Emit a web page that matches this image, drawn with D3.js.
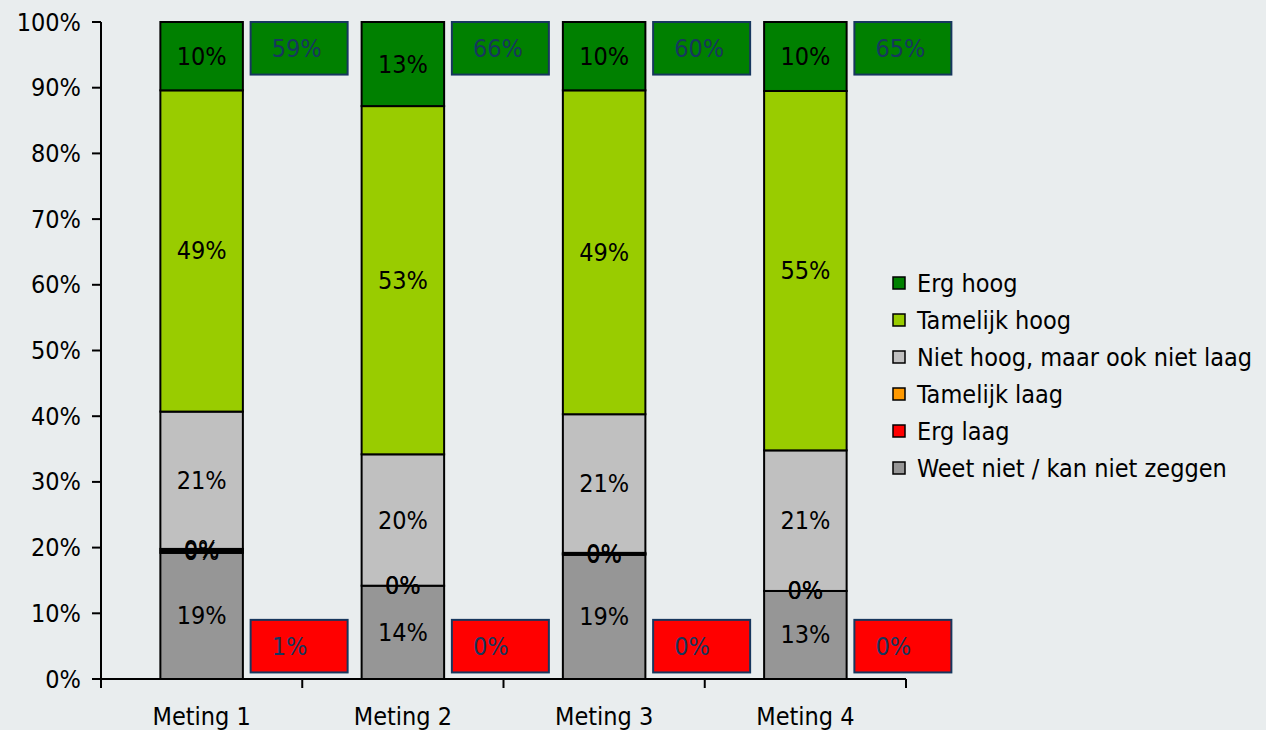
<!DOCTYPE html>
<html>
<head>
<meta charset="utf-8">
<script src="https://cdn.jsdelivr.net/npm/d3@7/dist/d3.min.js"></script>
<style>
  html, body { margin: 0; padding: 0; background: #E9EDEE; }
  svg { display: block; font-family: "DejaVu Sans Condensed", "DejaVu Sans", sans-serif; font-stretch: condensed; }
</style>
</head>
<body>
<svg id="chart" width="1266" height="730"></svg>
<script>
// Survey rounds and answer categories (stacked bottom to top)
const categories = ["Meting 1", "Meting 2", "Meting 3", "Meting 4"];
const seriesNames = ["Weet niet / kan niet zeggen", "Erg laag", "Tamelijk laag",
                     "Niet hoog, maar ook niet laag", "Tamelijk hoog", "Erg hoog"];
const seriesColors = ["#969696", "#FF0000", "#FF9900", "#C0C0C0", "#99CC00", "#008000"];

// Shares per round, in percent
const weetNiet     = [19.2, 14.2, 18.9, 13.4];
const ergLaag      = [0.3, 0.0, 0.15, 0.0];
const tamelijkLaag = [0.3, 0.0, 0.15, 0.0];
const nietHoog     = [20.9, 20.0, 21.1, 21.4];
const tamelijkHoog = [48.9, 53.0, 49.3, 54.7];
const ergHoog      = [10.4, 12.8, 10.4, 10.5];

const yTicks = [0, 10, 20, 30, 40, 50, 60, 70, 80, 90, 100];

const seriesValues = [weetNiet, ergLaag, tamelijkLaag, nietHoog, tamelijkHoog, ergHoog];
const rows = categories.map((c, i) => {
  const r = { cat: c };
  seriesNames.forEach((s, k) => r[s] = seriesValues[k][i] / 100);
  return r;
});

const svg = d3.select("#chart");
const fmt = d3.format(".0%");
const FS = 25;

const x = d3.scaleBand().domain(categories).range([101, 906]).paddingInner(0).paddingOuter(0);
const y = d3.scaleLinear().domain([0, 1]).range([679, 22]);
const barW = x.bandwidth() * 0.41;

const stack = d3.stack().keys(seriesNames);
const layers = stack(rows);

// Stacked bars
const g = svg.append("g");
layers.forEach((layer, k) => {
  g.selectAll(null).data(layer).enter().append("rect")
    .attr("x", d => x(d.data.cat) + x.bandwidth() / 2 - barW / 2)
    .attr("y", d => y(d[1]))
    .attr("width", barW)
    .attr("height", d => y(d[0]) - y(d[1]))
    .attr("fill", seriesColors[k])
    .attr("stroke", "#000")
    .attr("stroke-width", 2);
});

// Segment value labels
layers.forEach((layer, k) => {
  g.selectAll(null).data(layer).enter().append("text")
    .attr("x", d => x(d.data.cat) + x.bandwidth() / 2)
    .attr("y", d => y((d[0] + d[1]) / 2))
    .attr("text-anchor", "middle")
    .attr("dominant-baseline", "central")
    .attr("font-size", FS)
    .attr("fill", "#000")
    .text(d => fmt(d[1] - d[0]));
});

// Summary boxes: high (top) and low (bottom) shares per round
const highTotals = categories.map((c, i) => (ergHoog[i] + tamelijkHoog[i]) / 100);
const lowTotals  = categories.map((c, i) => (ergLaag[i] + tamelijkLaag[i]) / 100);
const boxW = 97;
const boxes = [
  { vals: highTotals, top: 1.0, bottom: 0.92, fill: "#008000" },
  { vals: lowTotals,  top: 0.09, bottom: 0.01, fill: "#FF0000" }
];
boxes.forEach(b => {
  categories.forEach((c, i) => {
    const bx = x(c) + x.bandwidth() / 2 + 49;
    svg.append("rect")
      .attr("x", bx).attr("y", y(b.top))
      .attr("width", boxW).attr("height", y(b.bottom) - y(b.top))
      .attr("fill", b.fill)
      .attr("stroke", "#17375E").attr("stroke-width", 2);
    svg.append("text")
      .attr("x", bx + 21)
      .attr("y", y((b.top + b.bottom) / 2))
      .attr("dominant-baseline", "central")
      .attr("font-size", FS)
      .attr("fill", "#17375E")
      .text(fmt(b.vals[i]));
  });
});

// Y axis
const ya = svg.append("g");
ya.append("line").attr("x1", 101).attr("x2", 101).attr("y1", y(1)).attr("y2", y(0) + 9)
  .attr("stroke", "#000").attr("stroke-width", 2);
yTicks.forEach(t => {
  ya.append("line").attr("x1", 92).attr("x2", 101).attr("y1", y(t / 100)).attr("y2", y(t / 100))
    .attr("stroke", "#000").attr("stroke-width", 2);
  ya.append("text").attr("x", 81).attr("y", y(t / 100))
    .attr("text-anchor", "end").attr("dominant-baseline", "central")
    .attr("font-size", FS).attr("fill", "#000")
    .text(t + "%");
});

// X axis with ticks at category boundaries
const xa = svg.append("g");
xa.append("line").attr("x1", x.range()[0]).attr("x2", x.range()[1]).attr("y1", y(0)).attr("y2", y(0))
  .attr("stroke", "#000").attr("stroke-width", 2);
const bounds = categories.map(c => x(c)).concat([x.range()[1]]);
bounds.forEach(bx => {
  xa.append("line").attr("x1", bx).attr("x2", bx).attr("y1", y(0)).attr("y2", y(0) + 9)
    .attr("stroke", "#000").attr("stroke-width", 2);
});
categories.forEach(c => {
  xa.append("text").attr("x", x(c) + x.bandwidth() / 2).attr("y", 716)
    .attr("text-anchor", "middle").attr("dominant-baseline", "central")
    .attr("font-size", FS).attr("fill", "#000")
    .text(c);
});

// Legend (top item = top of stack)
const legend = svg.append("g");
const legendOrder = d3.range(seriesNames.length).reverse();
legendOrder.forEach((k, j) => {
  const ly = 283 + j * 37;
  legend.append("rect").attr("x", 893).attr("y", ly - 6).attr("width", 12).attr("height", 12)
    .attr("fill", seriesColors[k]).attr("stroke", "#000").attr("stroke-width", 1.5);
  legend.append("text").attr("x", 917).attr("y", ly)
    .attr("dominant-baseline", "central").attr("font-size", FS).attr("fill", "#000")
    .text(seriesNames[k]);
});
</script>
</body>
</html>
